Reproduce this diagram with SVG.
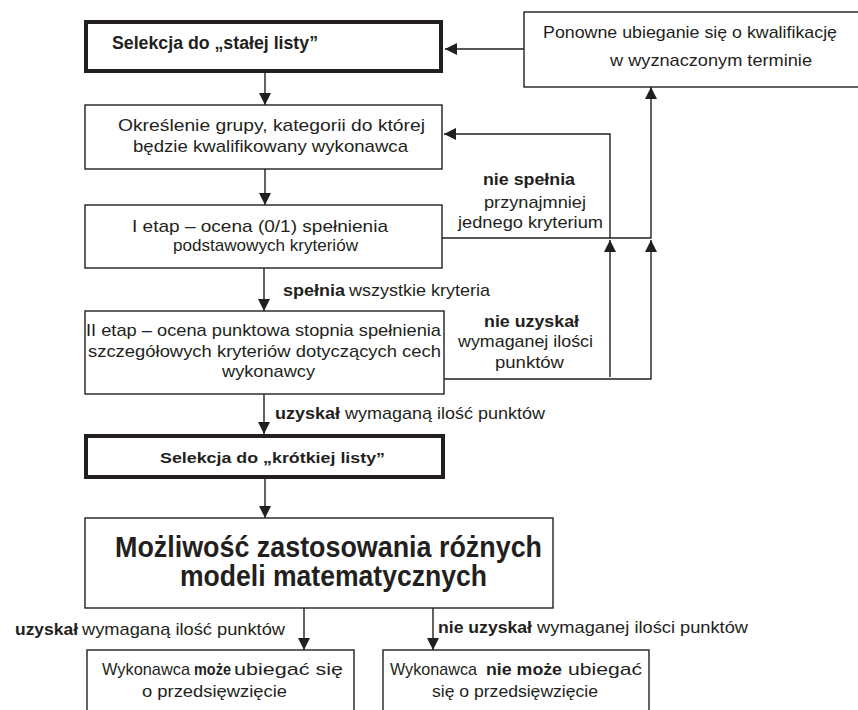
<svg xmlns="http://www.w3.org/2000/svg" width="858" height="710" viewBox="0 0 858 710">
<defs>
<style>
.bx{fill:#fff;stroke:#231f20;stroke-width:1.4}
.bxt{fill:#fff;stroke:#231f20;stroke-width:4}
.ln{fill:none;stroke:#231f20;stroke-width:1.4}
text{font-family:"Liberation Sans",Arial,sans-serif;font-size:17px;fill:#231f20}
.b{font-weight:bold;font-size:16px}
</style>
<marker id="ah" viewBox="0 0 12 12" refX="12" refY="6" markerWidth="12" markerHeight="12" markerUnits="userSpaceOnUse" orient="auto">
<path d="M0,0 L12,6 L0,12 z" fill="#231f20"/>
</marker>
</defs>
<rect width="858" height="710" fill="#fff"/>

<g id="connectors">
<path class="ln" d="M265,73 V105" marker-end="url(#ah)"/>
<path class="ln" d="M524,49 H445" marker-end="url(#ah)"/>
<path class="ln" d="M265,169 V205" marker-end="url(#ah)"/>
<path class="ln" d="M442,238 H651 V87" marker-end="url(#ah)"/>
<path class="ln" d="M610,238 V134 H444" marker-end="url(#ah)"/>
<path class="ln" d="M264,268 V311" marker-end="url(#ah)"/>
<path class="ln" d="M444,379 H651 V240" marker-end="url(#ah)"/>
<path class="ln" d="M610,377 V240" marker-end="url(#ah)"/>
<path class="ln" d="M264,394 V434" marker-end="url(#ah)"/>
<path class="ln" d="M265,479 V518" marker-end="url(#ah)"/>
<path class="ln" d="M304,608 V650" marker-end="url(#ah)"/>
<path class="ln" d="M433,608 V650" marker-end="url(#ah)"/>
<text class="b" x="483" y="185" textLength="92" lengthAdjust="spacingAndGlyphs">nie spełnia</text>
<text x="484" y="208" textLength="102" lengthAdjust="spacingAndGlyphs">przynajmniej</text>
<text x="458" y="228" textLength="145" lengthAdjust="spacingAndGlyphs">jednego kryterium</text>
<text class="b" x="283" y="296" textLength="62" lengthAdjust="spacingAndGlyphs">spełnia</text>
<text x="349" y="296" textLength="141" lengthAdjust="spacingAndGlyphs">wszystkie kryteria</text>
<text class="b" x="484" y="327" textLength="95" lengthAdjust="spacingAndGlyphs">nie uzyskał</text>
<text x="458" y="347" textLength="135" lengthAdjust="spacingAndGlyphs">wymaganej ilości</text>
<text x="495" y="368" textLength="69" lengthAdjust="spacingAndGlyphs">punktów</text>
<text class="b" x="275" y="419" textLength="65" lengthAdjust="spacingAndGlyphs">uzyskał</text>
<text x="345" y="419" textLength="200" lengthAdjust="spacingAndGlyphs">wymaganą  ilość punktów</text>
<text class="b" x="15" y="635" textLength="63" lengthAdjust="spacingAndGlyphs">uzyskał</text>
<text x="82" y="635" textLength="203" lengthAdjust="spacingAndGlyphs">wymaganą  ilość punktów</text>
<text class="b" x="438" y="633" textLength="94" lengthAdjust="spacingAndGlyphs">nie uzyskał</text>
<text x="537" y="633" textLength="211" lengthAdjust="spacingAndGlyphs">wymaganej ilości punktów</text>
</g>

<g id="n1">
<rect class="bxt" x="86" y="22" width="355" height="49"/>
<text class="b" x="112" y="49" style="font-size:18px" textLength="206" lengthAdjust="spacingAndGlyphs">Selekcja do „stałej listy”</text>
</g>

<g id="n2">
<rect class="bx" x="524" y="12" width="345" height="75"/>
<text x="543" y="38" textLength="294" lengthAdjust="spacingAndGlyphs">Ponowne ubieganie się o kwalifikację</text>
<text x="610" y="66" textLength="202" lengthAdjust="spacingAndGlyphs">w wyznaczonym terminie</text>
</g>

<g id="n3">
<rect class="bx" x="85" y="105" width="357" height="64"/>
<text x="118" y="131" textLength="307" lengthAdjust="spacingAndGlyphs">Określenie grupy,  kategorii do której</text>
<text x="133" y="152" textLength="275" lengthAdjust="spacingAndGlyphs">będzie kwalifikowany wykonawca</text>
</g>

<g id="n4">
<rect class="bx" x="85" y="205" width="357" height="63"/>
<text x="132" y="232" textLength="256" lengthAdjust="spacingAndGlyphs">I etap – ocena  (0/1) spełnienia</text>
<text x="173" y="251" textLength="185" lengthAdjust="spacingAndGlyphs">podstawowych kryteriów</text>
</g>

<g id="n5">
<rect class="bx" x="85" y="311" width="359" height="83"/>
<text x="86" y="336" textLength="355" lengthAdjust="spacingAndGlyphs">II etap – ocena punktowa stopnia spełnienia</text>
<text x="88" y="357" textLength="353" lengthAdjust="spacingAndGlyphs">szczegółowych kryteriów dotyczących cech</text>
<text x="222" y="377" textLength="93" lengthAdjust="spacingAndGlyphs">wykonawcy</text>
</g>

<g id="n6">
<rect class="bxt" x="86" y="436" width="357" height="41"/>
<text class="b" x="160" y="463" style="font-size:15px" textLength="225" lengthAdjust="spacingAndGlyphs">Selekcja do „krótkiej listy”</text>
</g>

<g id="n7">
<rect class="bx" x="85" y="518" width="468" height="90"/>
<text class="b" x="115" y="557" style="font-size:29px" textLength="427" lengthAdjust="spacingAndGlyphs">Możliwość zastosowania różnych</text>
<text class="b" x="180" y="586" style="font-size:29px" textLength="307" lengthAdjust="spacingAndGlyphs">modeli matematycznych</text>
</g>

<g id="n8">
<rect class="bx" x="87" y="650" width="267" height="70"/>
<text x="102" y="675" textLength="88" lengthAdjust="spacingAndGlyphs">Wykonawca</text>
<text class="b" x="194" y="675" textLength="37" lengthAdjust="spacingAndGlyphs">może</text>
<text x="234" y="675" textLength="109" lengthAdjust="spacingAndGlyphs">ubiegać się</text>
<text x="142" y="697" textLength="145" lengthAdjust="spacingAndGlyphs">o przedsięwzięcie</text>
</g>

<g id="n9">
<rect class="bx" x="383" y="650" width="266" height="70"/>
<text x="390" y="675" textLength="87" lengthAdjust="spacingAndGlyphs">Wykonawca</text>
<text class="b" x="486" y="675" textLength="76" lengthAdjust="spacingAndGlyphs">nie może</text>
<text x="568" y="675" textLength="74" lengthAdjust="spacingAndGlyphs">ubiegać</text>
<text x="432" y="697" textLength="166" lengthAdjust="spacingAndGlyphs">się o przedsięwzięcie</text>
</g>
</svg>
